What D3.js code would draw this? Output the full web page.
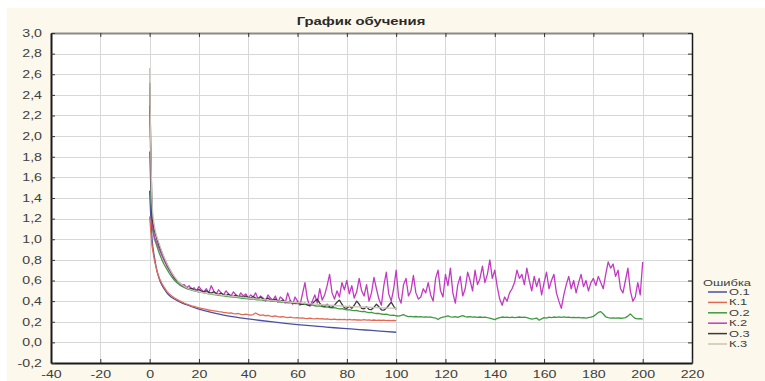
<!DOCTYPE html>
<html>
<head>
<meta charset="utf-8">
<script src="https://cdn.jsdelivr.net/npm/d3@7"></script>
<style>
  html, body { margin: 0; padding: 0; background: #ffffff; }
  svg { display: block; }
  text { font-family: "Liberation Sans", Arial, sans-serif; }
</style>
</head>
<body>
<svg id="chart" width="765" height="381"></svg>
<script>
// ---- axis ticks ----
const xTicks = [-40, -20, 0, 20, 40, 60, 80, 100, 120, 140, 160, 180, 200, 220];
const yTicks = [-0.2, 0, 0.2, 0.4, 0.6, 0.8, 1.0, 1.2, 1.4, 1.6, 1.8, 2.0, 2.2, 2.4, 2.6, 2.8, 3.0];

const chartTitle = "График обучения";
const legendTitle = "Ошибка";
const seriesNames = ["О.1", "К.1", "О.2", "К.2", "О.3", "К.3"];

// ---- О.1 : sampled epochs of a smooth curve ----
const o1Epochs = [0, 1, 2, 3, 4, 5, 6, 7, 8, 10, 12, 15, 20, 25, 30, 35, 40, 45, 50, 55, 60, 65, 70, 75, 80, 85, 90, 95, 100];
const o1Values = [1.47, 1.0, 0.82, 0.69, 0.61, 0.555, 0.515, 0.48, 0.455, 0.42, 0.395, 0.365, 0.322, 0.29, 0.265, 0.245, 0.228, 0.212, 0.198, 0.185, 0.173, 0.162, 0.152, 0.142, 0.133, 0.124, 0.116, 0.107, 0.098];

// ---- К.1 : one value per epoch, 0..100 ----
const k1Values = [1.22, 0.93, 0.79, 0.69, 0.62, 0.57, 0.53, 0.495, 0.47, 0.45,
  0.432, 0.418, 0.405, 0.393, 0.382, 0.372, 0.363, 0.355, 0.348, 0.341,
  0.335, 0.329, 0.324, 0.319, 0.314, 0.31, 0.306, 0.302, 0.298, 0.295,
  0.291, 0.288, 0.284, 0.286, 0.279, 0.276, 0.28, 0.272, 0.269, 0.274,
  0.268, 0.264, 0.27, 0.285, 0.272, 0.262, 0.266, 0.258, 0.261, 0.255,
  0.251, 0.256, 0.249, 0.246, 0.25, 0.244, 0.241, 0.245, 0.24, 0.237,
  0.24, 0.235, 0.238, 0.233, 0.231, 0.236, 0.23, 0.228, 0.232, 0.227,
  0.229, 0.225, 0.228, 0.224, 0.222, 0.226, 0.221, 0.224, 0.22, 0.223,
  0.219, 0.222, 0.218, 0.221, 0.217, 0.219, 0.216, 0.22, 0.215, 0.218,
  0.214, 0.217, 0.213, 0.216, 0.212, 0.215, 0.211, 0.214, 0.21, 0.213,
  0.211];

// ---- О.2 : one value per epoch, 0..200 ----
const o2Values = [1.85, 1.12, 1.0, 0.93, 0.86, 0.8, 0.75, 0.71, 0.67, 0.635,
  0.605, 0.58, 0.56, 0.545, 0.532, 0.522, 0.514, 0.507, 0.5, 0.494,
  0.488, 0.484, 0.479, 0.475, 0.471, 0.467, 0.463, 0.46, 0.456, 0.453,
  0.45, 0.447, 0.444, 0.441, 0.438, 0.436, 0.433, 0.43, 0.428, 0.425,
  0.422, 0.419, 0.421, 0.415, 0.412, 0.414, 0.408, 0.405, 0.407, 0.401,
  0.398, 0.4, 0.394, 0.391, 0.393, 0.387, 0.384, 0.386, 0.38, 0.377,
  0.379, 0.372, 0.369, 0.371, 0.364, 0.36, 0.363, 0.355, 0.352, 0.354,
  0.347, 0.343, 0.345, 0.338, 0.334, 0.336, 0.329, 0.325, 0.327, 0.32,
  0.316, 0.318, 0.311, 0.307, 0.309, 0.302, 0.298, 0.3, 0.293, 0.289,
  0.291, 0.284, 0.28, 0.282, 0.275, 0.271, 0.273, 0.266, 0.262, 0.264,
  0.258, 0.255, 0.262, 0.27, 0.256, 0.25, 0.252, 0.248, 0.251, 0.247,
  0.249, 0.245, 0.248, 0.244, 0.246, 0.24, 0.236, 0.222, 0.238, 0.245,
  0.25, 0.256, 0.248, 0.244, 0.25, 0.243, 0.252, 0.26, 0.25, 0.246,
  0.249, 0.244, 0.247, 0.243, 0.246, 0.242, 0.245, 0.24, 0.236, 0.228,
  0.22, 0.232, 0.24, 0.246, 0.242, 0.245, 0.241, 0.244, 0.24, 0.243,
  0.246, 0.242, 0.245, 0.24, 0.232, 0.226, 0.23, 0.236, 0.215, 0.228,
  0.24, 0.236, 0.244, 0.24, 0.246, 0.242, 0.248, 0.243, 0.247, 0.242,
  0.245, 0.24, 0.243, 0.239, 0.242, 0.238, 0.241, 0.236, 0.24, 0.244,
  0.252, 0.27, 0.29, 0.298, 0.275, 0.248, 0.24, 0.236, 0.238, 0.235,
  0.237, 0.234, 0.236, 0.24, 0.255, 0.275, 0.252, 0.232, 0.228, 0.231,
  0.226];

// ---- К.2 : one value per epoch, 0..200 ----
const k2Values = [2.3, 1.15, 1.02, 0.96, 0.9, 0.84, 0.79, 0.74, 0.7, 0.66,
  0.62, 0.6, 0.57, 0.55, 0.56, 0.53, 0.55, 0.51, 0.53, 0.5,
  0.54, 0.51, 0.49, 0.52, 0.48, 0.55, 0.5, 0.47, 0.51, 0.48,
  0.46, 0.5, 0.47, 0.45, 0.49, 0.46, 0.44, 0.48, 0.45, 0.47,
  0.43, 0.46, 0.44, 0.48, 0.42, 0.45, 0.43, 0.4, 0.46, 0.43,
  0.41, 0.45, 0.39, 0.44, 0.42, 0.38, 0.48, 0.41, 0.37, 0.44,
  0.4, 0.36, 0.47, 0.58, 0.42, 0.35, 0.4, 0.46, 0.38, 0.52,
  0.41, 0.46, 0.55, 0.66, 0.48, 0.42, 0.5, 0.44, 0.58, 0.51,
  0.6, 0.47, 0.55, 0.43, 0.49, 0.62, 0.5, 0.45, 0.56, 0.4,
  0.48, 0.63, 0.52, 0.42, 0.36, 0.55, 0.68, 0.47, 0.4, 0.52,
  0.7, 0.44, 0.38, 0.56, 0.62, 0.45, 0.5, 0.65, 0.48, 0.42,
  0.44, 0.52, 0.48, 0.58, 0.46, 0.4, 0.62, 0.7, 0.5, 0.44,
  0.66, 0.55, 0.72, 0.48, 0.38, 0.56, 0.64, 0.45, 0.52, 0.68,
  0.6, 0.5, 0.7, 0.56, 0.62, 0.74, 0.58, 0.66, 0.8, 0.62,
  0.7, 0.54, 0.42, 0.36, 0.44, 0.4, 0.48, 0.52, 0.58, 0.7,
  0.62, 0.66, 0.56, 0.72, 0.6, 0.5, 0.64, 0.54, 0.62, 0.46,
  0.58, 0.68, 0.52, 0.6, 0.66, 0.48, 0.4, 0.33, 0.46, 0.56,
  0.64, 0.52, 0.6, 0.48, 0.58, 0.66, 0.54, 0.6, 0.5, 0.58,
  0.62, 0.55, 0.64, 0.58, 0.52, 0.66, 0.78, 0.72, 0.76, 0.64,
  0.7, 0.52, 0.48, 0.6, 0.72, 0.5, 0.4, 0.44, 0.58, 0.46,
  0.78];

// ---- О.3 : one value per epoch, 0..100 ----
const o3Values = [2.52, 1.2, 1.08, 1.0, 0.93, 0.87, 0.81, 0.76, 0.71, 0.67,
  0.63, 0.6, 0.58, 0.56, 0.545, 0.53, 0.52, 0.525, 0.51, 0.505,
  0.512, 0.498, 0.49, 0.5, 0.485, 0.478, 0.49, 0.472, 0.466, 0.478,
  0.46, 0.455, 0.468, 0.45, 0.446, 0.46, 0.442, 0.448, 0.438, 0.45,
  0.435, 0.43, 0.445, 0.428, 0.424, 0.438, 0.42, 0.416, 0.43, 0.412,
  0.408, 0.42, 0.402, 0.398, 0.41, 0.392, 0.388, 0.4, 0.382, 0.378,
  0.392, 0.372, 0.368, 0.38, 0.362, 0.36, 0.375, 0.4, 0.42, 0.38,
  0.355, 0.35, 0.37, 0.345, 0.34, 0.36, 0.39, 0.41, 0.37, 0.335,
  0.33, 0.35, 0.33, 0.36, 0.4, 0.37, 0.33, 0.325, 0.345, 0.32,
  0.318, 0.34, 0.37, 0.345, 0.316, 0.312, 0.33, 0.36, 0.39, 0.35,
  0.32];

// ---- К.3 : sampled epochs of a smooth curve ----
const k3Epochs = [0, 1, 2, 3, 4, 5, 6, 8, 10, 12, 15, 20, 25, 30, 40, 50, 60, 70, 80, 90, 100];
const k3Values = [2.66, 1.35, 1.12, 1.02, 0.95, 0.88, 0.82, 0.72, 0.64, 0.58, 0.53, 0.49, 0.47, 0.455, 0.43, 0.405, 0.385, 0.365, 0.35, 0.34, 0.33];

const seriesColors = ["#4a4fa6", "#e26a55", "#3f9a3f", "#c23ac2", "#3a3a3a", "#cbc4b4"];

const epochsOf = vals => vals.map((_, i) => i);
const series = [
  { name: seriesNames[0], color: seriesColors[0], epochs: o1Epochs, values: o1Values, smooth: true },
  { name: seriesNames[1], color: seriesColors[1], epochs: epochsOf(k1Values), values: k1Values },
  { name: seriesNames[2], color: seriesColors[2], epochs: epochsOf(o2Values), values: o2Values },
  { name: seriesNames[3], color: seriesColors[3], epochs: epochsOf(k2Values), values: k2Values },
  { name: seriesNames[4], color: seriesColors[4], epochs: epochsOf(o3Values), values: o3Values },
  { name: seriesNames[5], color: seriesColors[5], epochs: k3Epochs, values: k3Values, smooth: true }
];

// ---- layout ----
const W = 765, H = 381;
const plot = { left: 51, top: 33, right: 692, bottom: 363 };
const SX = 1.35;      // horizontal stretch of the lettering
const SX_LEG = 1.5;   // legend lettering is set smaller and stretched more

const svg = d3.select("#chart");

// page background: white margin strip, cream panel
svg.append("rect").attr("width", W).attr("height", H).attr("fill", "#ffffff");
svg.append("rect").attr("x", 7).attr("y", 8).attr("width", W - 7).attr("height", H - 8).attr("fill", "#fcf8ec");

const x = d3.scaleLinear().domain([-40, 220]).range([plot.left, plot.right]);
const y = d3.scaleLinear().domain([-0.2, 3.0]).range([plot.bottom, plot.top]);

const locale = d3.formatLocale({ decimal: ",", thousands: " ", grouping: [3], currency: ["", ""], minus: "-" });
const fmtY = locale.format(".1f");
const fmtX = locale.format("d");

// stretched text helper: places a label at (px, py) widened by sx
function stretched(sel, px, py, sx = SX) {
  return sel.attr("x", px / sx).attr("y", py).attr("transform", `scale(${sx},1)`);
}

// plot area
svg.append("rect")
  .attr("x", plot.left).attr("y", plot.top)
  .attr("width", plot.right - plot.left).attr("height", plot.bottom - plot.top)
  .attr("fill", "#ffffff");

// grid
const grid = svg.append("g").attr("stroke", "#d8d8d8").attr("stroke-width", 1);
grid.selectAll("line.v").data(xTicks.slice(1, -1)).join("line")
  .attr("class", "v")
  .attr("x1", d => Math.round(x(d)) + 0.5).attr("x2", d => Math.round(x(d)) + 0.5)
  .attr("y1", plot.top).attr("y2", plot.bottom);
grid.selectAll("line.h").data(yTicks.slice(1, -1)).join("line")
  .attr("class", "h")
  .attr("y1", d => Math.round(y(d)) + 0.5).attr("y2", d => Math.round(y(d)) + 0.5)
  .attr("x1", plot.left).attr("x2", plot.right);

// series
svg.append("clipPath").attr("id", "plotClip").append("rect")
  .attr("x", plot.left).attr("y", plot.top)
  .attr("width", plot.right - plot.left).attr("height", plot.bottom - plot.top);

const lines = svg.append("g").attr("clip-path", "url(#plotClip)");
series.forEach(s => {
  const pts = s.epochs.map((e, i) => [e, s.values[i]]);
  const gen = d3.line()
    .x(d => x(d[0])).y(d => y(d[1]))
    .curve(s.smooth ? d3.curveMonotoneX : d3.curveLinear);
  lines.append("path")
    .attr("d", gen(pts))
    .attr("fill", "none")
    .attr("stroke", s.color)
    .attr("stroke-width", 1.3)
    .attr("stroke-linejoin", "round");
});

// axes
const labelStyle = (sel, size = 10.5) => sel
  .attr("font-size", size).attr("fill", "#404040")
  .attr("font-family", "\"Liberation Sans\", Arial, sans-serif");

svg.append("g")
  .attr("transform", `translate(0,${plot.top})`)
  .call(d3.axisTop(x).tickValues(xTicks).tickSize(-4).tickSizeOuter(0).tickFormat(""))
  .call(g => g.select(".domain").attr("stroke", "#8a8a8a").attr("stroke-width", 2))
  .call(g => g.selectAll(".tick line").attr("stroke", "#333"));

svg.append("g")
  .attr("transform", `translate(${plot.right},0)`)
  .call(d3.axisRight(y).tickValues(yTicks).tickSize(-4).tickSizeOuter(0).tickFormat(""))
  .call(g => g.select(".domain").attr("stroke", "#1a1a1a").attr("stroke-width", 1.5))
  .call(g => g.selectAll(".tick line").attr("stroke", "#333"));

svg.append("g")
  .attr("transform", `translate(0,${plot.bottom})`)
  .call(d3.axisBottom(x).tickValues(xTicks).tickSize(-4).tickSizeOuter(0).tickPadding(8).tickFormat(fmtX))
  .call(g => g.select(".domain").attr("stroke", "#1a1a1a").attr("stroke-width", 2))
  .call(g => g.selectAll(".tick line").attr("stroke", "#333"))
  .call(g => g.selectAll(".tick text").call(labelStyle).attr("transform", `scale(${SX},1)`));

svg.append("g")
  .attr("transform", `translate(${plot.left},0)`)
  .call(d3.axisLeft(y).tickValues(yTicks).tickSize(-4).tickSizeOuter(0).tickPadding(9).tickFormat(fmtY))
  .call(g => g.select(".domain").attr("stroke", "#1a1a1a").attr("stroke-width", 2))
  .call(g => g.selectAll(".tick line").attr("stroke", "#333"))
  .call(g => g.selectAll(".tick text").call(labelStyle)
    .attr("x", -9 / SX).attr("transform", `scale(${SX},1)`));

// title
svg.append("text")
  .call(stretched, 361, 25)
  .attr("text-anchor", "middle")
  .attr("font-size", 11).attr("font-weight", "bold").attr("fill", "#2a2a2a")
  .text(chartTitle);

// legend
const legend = svg.append("g").attr("transform", "translate(703,0)");
legend.append("text")
  .call(stretched, 0, 286, SX_LEG)
  .call(labelStyle, 8.6)
  .text(legendTitle);
const rowY = d3.scalePoint().domain(seriesNames).range([292, 344]);
const rows = legend.selectAll("g.row").data(series).join("g")
  .attr("class", "row")
  .attr("transform", d => `translate(0,${rowY(d.name)})`);
rows.append("line")
  .attr("x1", 5).attr("x2", 24).attr("y1", 0).attr("y2", 0)
  .attr("stroke", d => d.color).attr("stroke-width", 1.5);
rows.append("text")
  .call(stretched, 26, 0, SX_LEG)
  .attr("dy", "0.35em")
  .call(labelStyle, 8.6)
  .text(d => d.name);
</script>
</body>
</html>
